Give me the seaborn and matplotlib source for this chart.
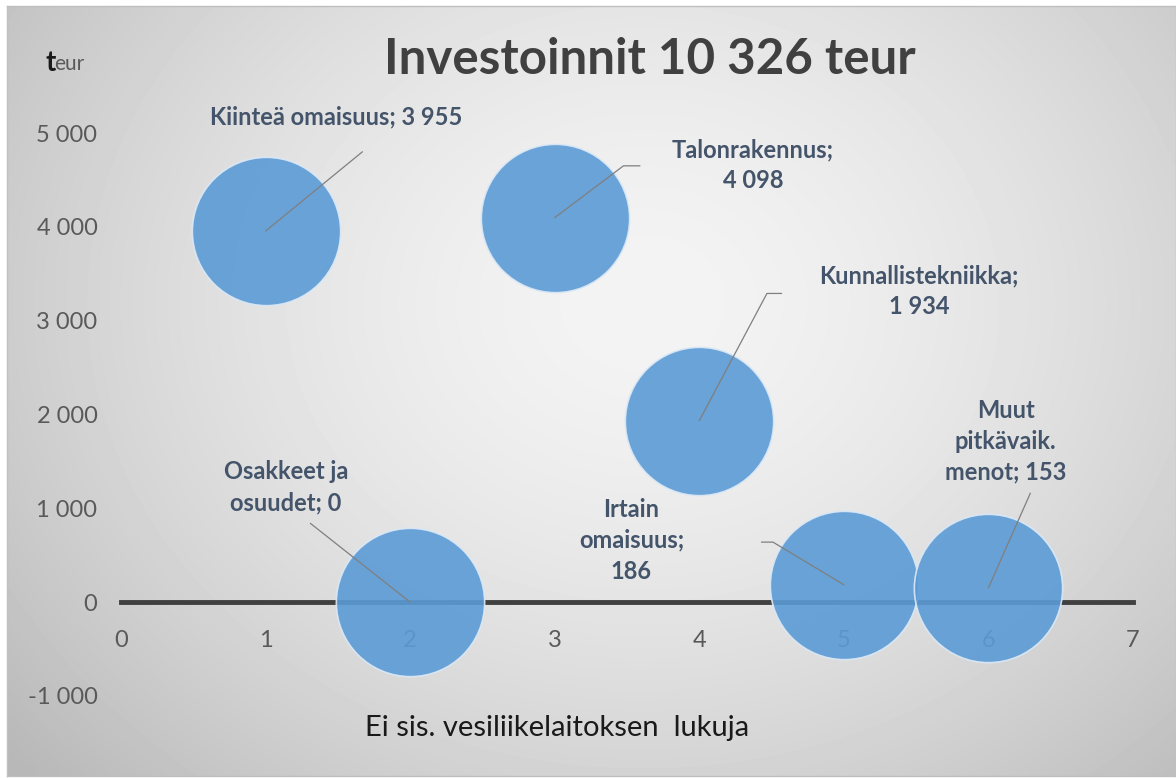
import numpy as np
import pandas as pd
import seaborn as sns
import matplotlib.pyplot as plt
from matplotlib.ticker import FuncFormatter

sns.set_theme(style="white")
plt.rcParams['font.family'] = ['Lato', 'DejaVu Sans']

# data
positions = [1, 2, 3, 4, 5, 6]
values = [3955, 0, 4098, 1934, 186, 153]
labels = ["Kiinteä omaisuus; 3 955",
          "Osakkeet ja\nosuudet; 0",
          "Talonrakennus;\n4 098",
          "Kunnallistekniikka;\n1 934",
          "Irtain\nomaisuus;\n186",
          "Muut\npitkävaik.\nmenot; 153"]
x_ticks = [0, 1, 2, 3, 4, 5, 6, 7]
y_ticks = [-1000, 0, 1000, 2000, 3000, 4000, 5000]

df = pd.DataFrame({"pos": positions, "value": values, "label": labels})

# label layout: text centre, leader start, elbow angle (None = straight)
label_xy = [(1.49, 5170), (1.14, 1226), (4.37, 4658), (5.52, 3315), (3.53, 661), (6.12, 1716)]
leader_start = [(1.67, 4800), (1.31, 840), (3.59, 4650), (4.57, 3290), (4.43, 640), (6.29, 1162)]
leader_angle = [None, None, 37, 62, 149, None]

W, H = 1176, 778
fig = plt.figure(figsize=(W / 100, H / 100), dpi=100)
fig.patch.set_facecolor("white")

# radial grey background with a thin border
bg = fig.add_axes([7 / W, 2 / H, 1 - 7 / W, 1 - 8 / H])
gx, gy = np.meshgrid(np.linspace(0, W, 300), np.linspace(0, H, 200))
d = np.sqrt(((gx - 640) / 760) ** 2 + ((gy - 300) / 640) ** 2)
shade = np.clip(0.955 - 0.2 * d ** 1.6, 0.72, 1)
bg.imshow(shade, cmap="gray", vmin=0, vmax=1, aspect="auto", interpolation="bicubic")
bg.set_xticks([])
bg.set_yticks([])
for s in bg.spines.values():
    s.set_color("#bfbfbf")
    s.set_linewidth(1)

ax = fig.add_axes([121 / W, 82 / H, 1012 / W, 563 / H])
ax.patch.set_alpha(0)

sns.scatterplot(data=df, x="pos", y="value", s=11400, color="#5B9BD5", alpha=0.9,
                edgecolor="#dce9f6", linewidth=1.2, zorder=3, ax=ax, legend=False)

ax.set_xlim(0, 7)
ax.set_ylim(-1000, 5000)
ax.set_xticks(x_ticks)
ax.set_yticks(y_ticks)
ax.yaxis.set_major_formatter(FuncFormatter(lambda v, p: f"{int(v):,}".replace(",", " ")))
for side in ["top", "right", "left"]:
    ax.spines[side].set_visible(False)
ax.spines["bottom"].set_position(("data", 0))
ax.spines["bottom"].set_color("#404040")
ax.spines["bottom"].set_linewidth(3.5)
ax.spines["bottom"].set_zorder(2)
ax.tick_params(axis="x", length=0, pad=20, labelsize=17, labelcolor="#595959")
ax.tick_params(axis="y", length=0, pad=17, labelsize=17, labelcolor="#595959")
ax.set_xlabel("")
ax.set_ylabel("")

for (tx, ty), (sx, sy), ang, (px, py, txt) in zip(label_xy, leader_start, leader_angle,
                                                   zip(df["pos"], df["value"], df["label"])):
    cs = "arc3" if ang is None else f"angle,angleA=0,angleB={ang},rad=0"
    ax.annotate("", xy=(px, py), xytext=(sx, sy),
                arrowprops=dict(arrowstyle="-", color="#7f7f7f", lw=0.9,
                                shrinkA=0, shrinkB=0, connectionstyle=cs),
                zorder=4, annotation_clip=False)
    ax.text(tx, ty, txt, ha="center", va="center", fontsize=17, fontweight="bold",
            color="#44546A", linespacing=1.42, zorder=5, clip_on=False)

fig.text(650 / W, 1 - 60 / H, "Investoinnit 10 326 teur", ha="center", va="center",
         fontsize=35.5, fontweight="bold", color="#404040")
fig.text(45 / W, 1 - 63 / H, "t", ha="left", va="center", fontsize=20, fontweight="bold", color="#1a1a1a")
fig.text(54 / W, 1 - 64 / H, "eur", ha="left", va="center", fontsize=15, color="#595959")
fig.text(557 / W, 1 - 728 / H, "Ei sis. vesiliikelaitoksen  lukuja", ha="center", va="center",
         fontsize=21, color="#1a1a1a")

fig.savefig("out.png", dpi=100)
